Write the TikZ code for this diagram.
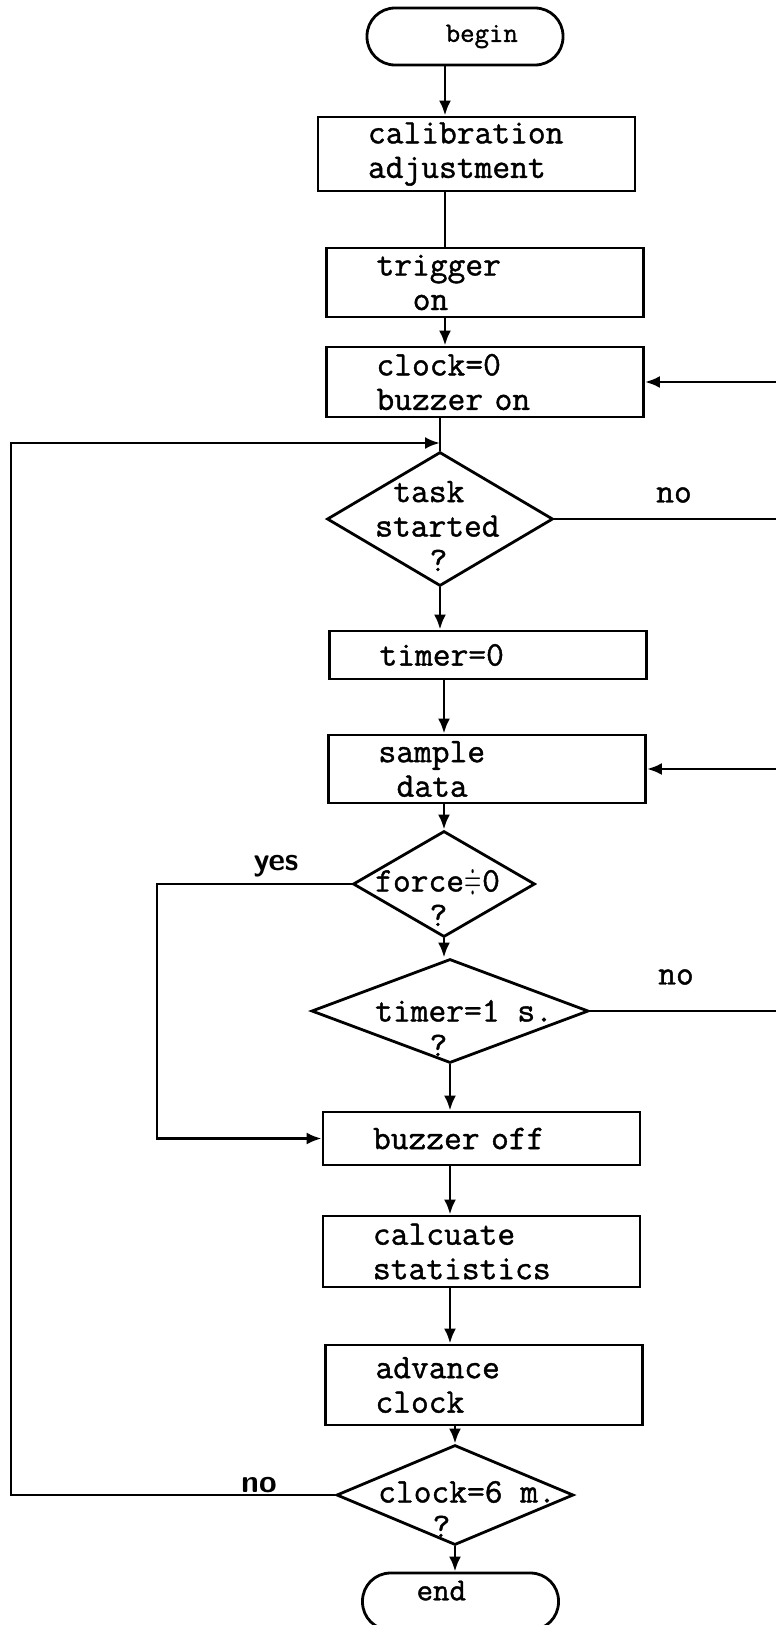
\documentclass[tikz,border=0pt]{standalone}
\usepackage{amssymb}
\usepackage{fontspec}
\usepackage{tikz}
\usetikzlibrary{arrows.meta,shapes.geometric}
\newfontfamily\typewriter{Latin Modern Mono}[FakeBold=1.2]
\newcommand{\boxfont}{\typewriter\fontsize{34.5}{34.5}\selectfont}
\newcommand{\neareq}{\makebox[0.525em]{\resizebox{0.5em}{0.62em}{$\doteqdot$}}}
\tikzset{
    box/.style={draw,rectangle,line width=2.8pt,text width=217pt,inner xsep=50pt,inner ysep=0pt,align=left,font=\boxfont},
    decision/.style={draw,diamond,line width=2.8pt,inner sep=0pt},
    terminal/.style={draw,rectangle,rounded corners=28pt,line width=2.8pt,minimum width=196pt,minimum height=57pt,inner sep=0pt},
    dtext/.style={inner sep=0pt,anchor=west,align=left,font=\boxfont},
    answer/.style={inner sep=0pt,font=\boxfont},
    yesno/.style={inner sep=0pt,font=\sffamily\bfseries\fontsize{32}{32}\selectfont},
    flow/.style={line width=2.8pt,-{Latex[length=15pt,width=12pt]}},
    link/.style={line width=2.8pt}
}

\begin{document}
\begin{tikzpicture}[x=1pt,y=-1pt]
    \useasboundingbox (0,0) rectangle (776,1625);
    \clip (0,0) rectangle (776,1625);

    \node[terminal,font=\typewriter\fontsize{28}{28}\selectfont] (start) at (465,36.5) {\hspace*{1.2em}begin};
    \node[box,minimum height=74pt] (calib) at (476.5,154) {calibration\\adjustment};
    \node[box,minimum height=69pt] (trigger) at (485,282.5) {trigger\\\hspace*{1.05em}on};
    \node[box,minimum height=70pt] (clock0) at (485,382) {clock=0\\buzzer on};
    \node[decision,minimum width=226pt,minimum height=134pt] (task) at (440,519) {};
    \node[dtext] (tasktext) at (375,526) {\hspace*{0.525em}task\\started\\\hspace*{1.575em}?};
    \node[box,minimum height=48pt] (timer0) at (488,655) {timer=0};
    \node[box,minimum height=68pt] (sample) at (487,769) {sample\\\hspace*{0.525em}data};
    \node[decision,minimum width=182pt,minimum height=106pt] (force) at (444,884) {};
    \node[dtext] (forcetext) at (375,898) {force\neareq0\\\hspace*{1.575em}?};
    \node[decision,minimum width=277pt,minimum height=104pt] (timer) at (450,1011) {};
    \node[dtext] (timertext) at (375,1028) {timer=1 s.\\\hspace*{1.575em}?};
    \node[box,minimum height=53pt] (buzzoff) at (481.5,1138.5) {buzzer off};
    \node[box,minimum height=71pt] (calc) at (481.5,1251.5) {calcuate\\statistics};
    \node[box,minimum height=80pt] (adv) at (484,1385) {advance\\clock};
    \node[decision,minimum width=237pt,minimum height=100pt] (clock6) at (455,1495) {};
    \node[dtext] (clock6text) at (378,1509) {clock=6 m.\\\hspace*{1.575em}?};
    \node[terminal,font=\typewriter\fontsize{32}{32}\selectfont] (stop) at (460.5,1601.5) {\raisebox{22pt}{end}\hspace*{1.2em}};

    \node[answer] (noright) at (674,495) {no};
    \node[answer] (noloop) at (676,977) {no};
    \node[yesno] (yeslabel) at (276,866) {yes};
    \node[yesno] (nolabel) at (259,1485) {no};

    \coordinate (spine) at (445,0);
    \coordinate (rim) at (792,0);
    \coordinate (yesx) at (157,0);
    \coordinate (loopx) at (11,0);
    \coordinate (merge) at (440,443);

    \draw[flow] (start.south -| spine) -- (calib.north -| spine);
    \draw[link] (calib.south -| spine) -- (trigger.north -| spine);
    \draw[flow] (trigger.south -| spine) -- (clock0.north -| spine);
    \draw[link] (clock0.south -| task.north) -- (task.north);
    \draw[flow] (task.east) -- (task.east -| rim) -- (clock0.east -| rim) -- (clock0.east);
    \draw[flow] (task.south) -- (timer0.north -| task.south);
    \draw[flow] (timer0.south -| force.north) -- (sample.north -| force.north);
    \draw[flow] (sample.south -| force.north) -- (force.north);
    \draw[flow] (force.west) -- (force.west -| yesx) -- (buzzoff.west -| yesx) -- (buzzoff.west);
    \draw[flow] (force.south) -- (force.south |- timer.north);
    \draw[flow] (timer.east) -- (timer.east -| rim) -- (sample.east -| rim) -- (sample.east);
    \draw[flow] (timer.south) -- (buzzoff.north -| timer.south);
    \draw[flow] (buzzoff.south -| timer.south) -- (calc.north -| timer.south);
    \draw[flow] (calc.south -| timer.south) -- (adv.north -| timer.south);
    \draw[flow] (adv.south -| clock6.north) -- (clock6.north);
    \draw[flow] (clock6.south) -- (stop.north -| clock6.south);
    \draw[flow] (clock6.west) -- (clock6.west -| loopx) -- (merge -| loopx) -- (merge);
\end{tikzpicture}
\end{document}
